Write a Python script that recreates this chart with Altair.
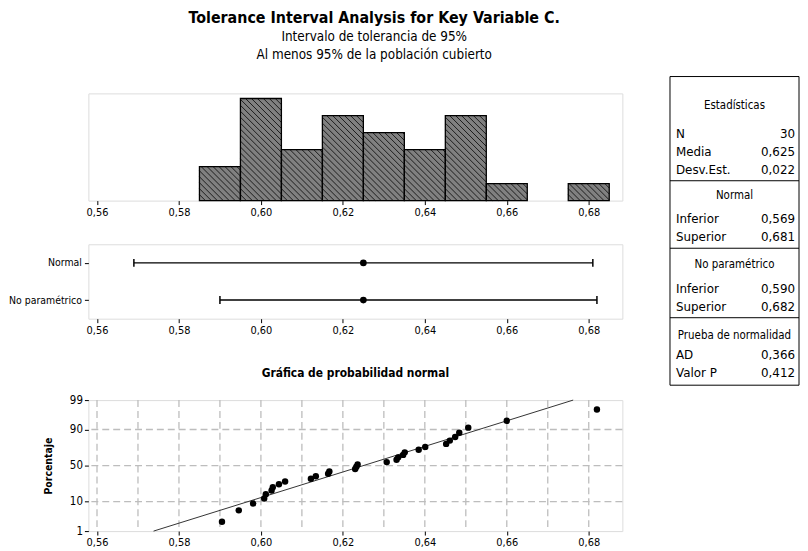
import altair as alt
import pandas as pd
from statistics import NormalDist

NARROW = '"DejaVu Sans Condensed", "Arial Narrow", sans-serif'
TFONT = '"DejaVu Sans", Verdana, sans-serif'
THFONT = '"DejaVu Sans Condensed", Tahoma, sans-serif'

# ---------------- data ----------------
values = [0.5905, 0.5946, 0.5981, 0.6008, 0.6012, 0.6026, 0.6029, 0.6044, 0.6059,
          0.6122, 0.6134, 0.6164, 0.6167, 0.6230, 0.6233, 0.6236,
          0.6307, 0.6331, 0.6335, 0.6347, 0.6351, 0.6385, 0.6401,
          0.6452, 0.6461, 0.6474, 0.6484, 0.6506, 0.6600, 0.6820]

bin_left = [0.585, 0.595, 0.605, 0.615, 0.625, 0.635, 0.645, 0.655, 0.665, 0.675]
bin_right = [0.595, 0.605, 0.615, 0.625, 0.635, 0.645, 0.655, 0.665, 0.675, 0.685]
bin_count = [2, 6, 3, 5, 4, 3, 5, 1, 0, 1]

interval_method = ["Normal", "No paramétrico"]
interval_lower = [0.569, 0.590]
interval_upper = [0.681, 0.682]
interval_mean = [0.625, 0.625]

fit_x = [0.5738, 0.6762]
fit_pct = [1, 99]

x_ticks = [0.56, 0.58, 0.60, 0.62, 0.64, 0.66, 0.68]
x_grid = [0.56, 0.57, 0.58, 0.59, 0.60, 0.61, 0.62, 0.63, 0.64, 0.65, 0.66, 0.67, 0.68]
pct_ticks = [1, 10, 50, 90, 99]
pct_grid = [10, 50, 90]

table_headers = ["Estadísticas", "Normal", "No paramétrico", "Prueba de normalidad"]
table_labels = ["N", "Media", "Desv.Est.", "Inferior", "Superior", "Inferior", "Superior", "AD", "Valor P"]
table_values = ["30", "0,625", "0,022", "0,569", "0,681", "0,590", "0,682", "0,366", "0,412"]

# ---------------- layout ----------------
PLOT_W = 538
HIST_H = 108
INT_H = 75
PROB_H = 132
XMIN, XMAX = 0.5579, 0.6882
HMAX = 6.3
PXX = PLOT_W / (XMAX - XMIN)
PXY = HIST_H / HMAX
HATCH = 6.0

TBL_W = 130
TBL_H = 311
TBL_TOP = -17
header_y = [30, 120, 190, 261]
row_y = [58, 76, 94, 144, 162, 214, 232, 281, 299]
sep_y = [105, 173, 243]

Z99 = NormalDist().inv_cdf(0.99)
z_ticks = [NormalDist().inv_cdf(p / 100) for p in pct_ticks]

comma = "replace(format(datum.value, '.2f'), '.', ',')"


def xaxis(pad):
    return alt.Axis(values=x_ticks, labelExpr=comma, title=None, grid=False, domain=False,
                    ticks=True, tickSize=4, tickColor="black", labelFont=NARROW,
                    labelFontSize=11, labelColor="black", labelPadding=pad, labelFlush=False)


xs = alt.Scale(domain=[XMIN, XMAX], nice=False, zero=False)

# ---------------- histogram ----------------
hist_df = pd.DataFrame({"left": bin_left, "right": bin_right, "count": bin_count})
hy = alt.Scale(domain=[0, HMAX], nice=False, zero=True)
hbase = alt.Chart(hist_df).transform_filter("datum.count > 0")
hfill = hbase.mark_rect(fill="#808080", strokeWidth=0).encode(
    x=alt.X("left:Q", scale=xs, axis=xaxis(2), title=None),
    x2="right:Q",
    y=alt.Y("count:Q", scale=hy, axis=None),
    y2=alt.datum(0),
)
hatch = hbase.transform_calculate(
    W=f"(datum.right - datum.left) * {PXX}",
    H=f"datum.count * {PXY}",
).transform_calculate(
    ks=f"sequence(1, ceil((datum.W + datum.H) / {HATCH}))"
).transform_flatten(["ks"]).transform_calculate(
    c=f"datum.ks * {HATCH}"
).transform_calculate(
    xa="max(0, datum.c - datum.H)",
    xb="min(datum.W, datum.c)",
).transform_calculate(
    hx1=f"datum.left + datum.xa / {PXX}",
    hy1=f"(datum.c - datum.xa) / {PXY}",
    hx2=f"datum.left + datum.xb / {PXX}",
    hy2=f"(datum.c - datum.xb) / {PXY}",
).mark_rule(color="#111111", strokeWidth=0.9).encode(
    x=alt.X("hx1:Q", scale=xs, axis=xaxis(2), title=None),
    x2="hx2:Q",
    y=alt.Y("hy1:Q", scale=hy, axis=None),
    y2="hy2:Q",
)
hline = hbase.mark_rect(fillOpacity=0, stroke="black", strokeWidth=1.3).encode(
    x=alt.X("left:Q", scale=xs, axis=xaxis(2), title=None),
    x2="right:Q",
    y=alt.Y("count:Q", scale=hy, axis=None),
    y2=alt.datum(0),
)
hist = alt.layer(hfill, hatch, hline).properties(width=PLOT_W, height=HIST_H)

# ---------------- interval plot ----------------
int_df = pd.DataFrame({"method": interval_method, "lower": interval_lower,
                       "upper": interval_upper, "mean": interval_mean})
ys = alt.Scale(type="point", domain=interval_method, padding=0.5)
yax = alt.Axis(title=None, domain=False, ticks=True, tickSize=4, tickColor="black",
               labelFont=NARROW, labelFontSize=10.5, labelColor="black", labelPadding=3)
ib = alt.Chart(int_df)
iline = ib.mark_rule(color="black", strokeWidth=1.5).encode(
    x=alt.X("lower:Q", scale=xs, axis=xaxis(2), title=None),
    x2="upper:Q",
    y=alt.Y("method:N", scale=ys, axis=yax, title=None),
)
capl = ib.mark_point(shape="M0,-1L0,1", size=64, color="black", strokeWidth=1.5, filled=False, opacity=1).encode(
    x=alt.X("lower:Q", title=None), y=alt.Y("method:N", title=None))
capu = ib.mark_point(shape="M0,-1L0,1", size=64, color="black", strokeWidth=1.5, filled=False, opacity=1).encode(
    x=alt.X("upper:Q", title=None), y=alt.Y("method:N", title=None))
imean = ib.mark_circle(size=45, color="black", opacity=1).encode(
    x=alt.X("mean:Q", title=None), y=alt.Y("method:N", title=None))
interval = alt.layer(iline, capl, capu, imean).properties(width=PLOT_W, height=INT_H)

# ---------------- normal probability plot ----------------
zs = alt.Scale(domain=[-Z99, Z99], nice=False, zero=False)
pax = alt.Axis(values=z_ticks, labelExpr="format(cumulativeNormal(datum.value) * 100, '.0f')",
               title="Porcentaje", titleFont=NARROW, titleFontSize=10.5, titleFontWeight="bold",
               titleColor="black", titlePadding=16, domain=False, ticks=True, tickSize=4,
               tickColor="black", labelFont=NARROW, labelFontSize=11.5, labelColor="black",
               labelPadding=2, grid=False)
dash = dict(color="#bdbdbd", strokeWidth=1.3, strokeDash=[7, 4])
gv = alt.Chart(pd.DataFrame({"gx": x_grid})).mark_rule(**dash).encode(
    x=alt.X("gx:Q", scale=xs, axis=xaxis(2), title=None))
gh = alt.Chart(pd.DataFrame({"gp": pct_grid})).transform_calculate(
    gz="quantileNormal(datum.gp / 100)").mark_rule(**dash).encode(
    y=alt.Y("gz:Q", scale=zs, axis=pax))
fit = alt.Chart(pd.DataFrame({"fx": fit_x, "fp": fit_pct})).transform_calculate(
    fz="quantileNormal(datum.fp / 100)").mark_line(color="#333333", strokeWidth=1).encode(
    x=alt.X("fx:Q", scale=xs, axis=xaxis(2), title=None),
    y=alt.Y("fz:Q", scale=zs, axis=pax))
pts = alt.Chart(pd.DataFrame({"value": values})).transform_window(
    rank="row_number()", sort=[alt.SortField("value")]
).transform_joinaggregate(n="count()").transform_calculate(
    pz="quantileNormal((datum.rank - 0.3) / (datum.n + 0.4))"
).mark_circle(size=42, color="black", opacity=1).encode(
    x=alt.X("value:Q", scale=xs, axis=xaxis(2), title=None),
    y=alt.Y("pz:Q", scale=zs, axis=pax))
prob = alt.layer(gv, gh, fit, pts).properties(
    width=PLOT_W, height=PROB_H,
    title=alt.TitleParams("Gráfica de probabilidad normal", font=NARROW, fontSize=12,
                          fontWeight="bold", color="black", offset=14, anchor="middle"))

# ---------------- statistics table ----------------
ty = alt.Scale(domain=[0, TBL_H], range=[TBL_TOP, TBL_H + TBL_TOP])
box = alt.Chart(pd.DataFrame({"a": [0]})).mark_rect(
    fillOpacity=0, stroke="black", strokeWidth=1).encode(
    x=alt.value(0), x2=alt.value(TBL_W), y=alt.value(TBL_TOP), y2=alt.value(TBL_H + TBL_TOP))
seps = alt.Chart(pd.DataFrame({"sy": sep_y})).mark_rule(color="black", strokeWidth=1).encode(
    x=alt.value(0), x2=alt.value(TBL_W), y=alt.Y("sy:Q", scale=ty, axis=None))
heads = alt.Chart(pd.DataFrame({"t": table_headers, "yy": header_y})).mark_text(
    font=THFONT, fontSize=11.5, color="black", align="center", baseline="middle").encode(
    x=alt.value(TBL_W / 2), y=alt.Y("yy:Q", scale=ty, axis=None), text="t:N")
labs = alt.Chart(pd.DataFrame({"t": table_labels, "yy": row_y})).mark_text(
    font=TFONT, fontSize=12, color="black", align="left", baseline="middle").encode(
    x=alt.value(6), y=alt.Y("yy:Q", scale=ty, axis=None), text="t:N")
vals = alt.Chart(pd.DataFrame({"t": table_values, "yy": row_y})).mark_text(
    font=TFONT, fontSize=12, color="black", align="right", baseline="middle").encode(
    x=alt.value(TBL_W - 4), y=alt.Y("yy:Q", scale=ty, axis=None), text="t:N")
table = alt.layer(box, seps, heads, labs, vals).properties(
    width=TBL_W, height=294, view=alt.ViewBackground(stroke="transparent"))

# ---------------- compose ----------------
left = alt.vconcat(alt.vconcat(hist, interval, spacing=25), prob, spacing=30)
chart = alt.hconcat(left, table, spacing=45).properties(
    padding={"left": 0, "top": 0, "right": 0, "bottom": 0},
    title=alt.TitleParams(
        "Tolerance Interval Analysis for Key Variable C.",
        subtitle=["Intervalo de tolerancia de 95%", "Al menos 95% de la población cubierto"],
        font=NARROW, fontSize=16, fontWeight="bold", color="black",
        subtitleFont=NARROW, subtitleFontSize=13.5, subtitleColor="black",
        subtitlePadding=4, subtitleLineHeight=18, anchor="middle", dx=-30, offset=14),
).configure_view(stroke="black", strokeWidth=1.2).configure(background="white")

chart.save("out.html", embed_options={"renderer": "svg", "actions": False})
